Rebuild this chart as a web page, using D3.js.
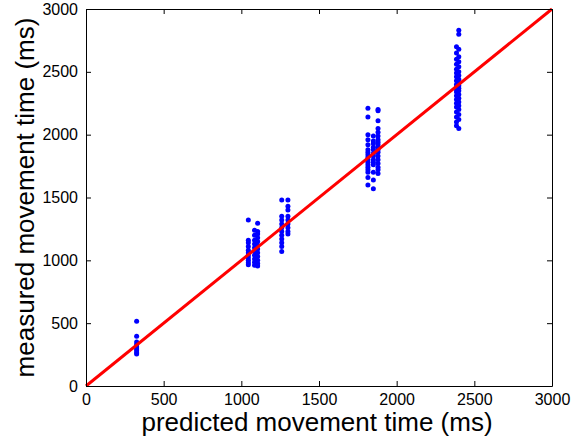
<!DOCTYPE html>
<html>
<head>
  <meta charset="utf-8">
  <style>
    body { margin: 0; background: #fff; }
    text { font-family: "Liberation Sans", Arial, sans-serif; }
  </style>
  <title>Predicted vs measured movement time</title>
</head>
<body>
  <script src="https://cdn.jsdelivr.net/npm/d3@7/dist/d3.min.js"></script>
  <script>
    // axis ticks
    var xTicks = [0, 500, 1000, 1500, 2000, 2500, 3000];
    var yTicks = [0, 500, 1000, 1500, 2000, 2500, 3000];

    // predicted time of each column of points (ms)
    var predicted = [326, 1045, 1085, 1105, 1260, 1300, 1815, 1850, 1880, 2385, 2400];

    // measured times for each column (ms)
    var measured = [
      [515, 395, 350, 330, 310, 295, 280, 265, 255],
      [1320, 1160, 1140, 1110, 1080, 1060, 1040, 1020, 1000, 980, 965],
      [1240, 1200, 1160, 1130, 1100, 1070, 1040, 1010, 985, 960],
      [1295, 1230, 1210, 1180, 1150, 1120, 1090, 1060, 1030, 1000, 975, 955],
      [1480, 1350, 1320, 1290, 1260, 1230, 1200, 1170, 1140, 1110, 1070],
      [1480, 1430, 1400, 1350, 1320, 1290, 1260, 1230, 1210],
      [2210, 2140, 2000, 1960, 1920, 1880, 1860, 1840, 1820, 1800, 1780, 1760, 1740, 1720, 1700, 1660, 1600],
      [1990, 1950, 1930, 1900, 1880, 1850, 1830, 1800, 1780, 1760, 1700, 1640, 1570],
      [2200, 2190, 2110, 2050, 2020, 1990, 1960, 1940, 1920, 1900, 1880, 1860, 1830, 1800, 1770, 1740, 1720, 1690],
      [2700, 2650, 2600, 2560, 2520, 2490, 2460, 2430, 2400, 2380, 2360, 2340, 2310, 2280, 2250, 2220, 2180, 2140, 2100, 2070],
      [2830, 2800, 2680, 2620, 2580, 2540, 2500, 2470, 2440, 2410, 2390, 2370, 2350, 2320, 2290, 2260, 2230, 2200, 2160, 2120, 2050]
    ];

    // identity line
    var lineX = [0, 3000];

    var margin = {top: 9, right: 29, bottom: 51, left: 86},
        width = 581 - margin.left - margin.right,
        height = 437 - margin.top - margin.bottom;

    var svg = d3.select("body").append("svg")
        .attr("width", 581)
        .attr("height", 437)
      .append("g")
        .attr("transform", "translate(" + margin.left + "," + margin.top + ")");

    var x = d3.scaleLinear().domain([0, 3000]).range([0, width]);
    var y = d3.scaleLinear().domain([0, 3000]).range([height, 0]);

    // flatten into points
    var points = [];
    predicted.forEach(function (p, i) {
      measured[i].forEach(function (m) { points.push({p: p, m: m}); });
    });

    // points
    svg.selectAll("circle")
        .data(points)
      .enter().append("circle")
        .attr("cx", function (d) { return x(d.p); })
        .attr("cy", function (d) { return y(d.m); })
        .attr("r", 2.5)
        .attr("fill", "#0000ff");

    // red line
    svg.append("line")
        .attr("x1", x(lineX[0])).attr("y1", y(lineX[0]))
        .attr("x2", x(lineX[1])).attr("y2", y(lineX[1]))
        .attr("stroke", "#ff0000")
        .attr("stroke-width", 3);

    // axes, ticks pointing inward
    function style(g) {
      g.selectAll("path").attr("stroke", "#000");
      g.selectAll("line").attr("stroke", "#000");
      g.selectAll("text").attr("font-size", "16px").attr("fill", "#000")
        .style("font-family", "'Liberation Sans', Arial, sans-serif");
    }

    svg.append("g")
        .attr("transform", "translate(0," + height + ")")
        .call(d3.axisBottom(x).tickValues(xTicks).tickFormat(d3.format("d"))
          .tickSizeInner(-5).tickSizeOuter(0).tickPadding(8))
        .call(style);

    svg.append("g")
        .call(d3.axisTop(x).tickValues(xTicks).tickFormat("")
          .tickSizeInner(-5).tickSizeOuter(0))
        .call(style);

    svg.append("g")
        .call(d3.axisLeft(y).tickValues(yTicks).tickFormat(d3.format("d"))
          .tickSizeInner(-5).tickSizeOuter(0).tickPadding(8))
        .call(style);

    svg.append("g")
        .attr("transform", "translate(" + width + ",0)")
        .call(d3.axisRight(y).tickValues(yTicks).tickFormat("")
          .tickSizeInner(-5).tickSizeOuter(0))
        .call(style);

    // axis labels
    svg.append("text")
        .attr("x", width / 2 - 2)
        .attr("y", height + 45)
        .attr("text-anchor", "middle")
        .attr("font-size", "26px")
        .text("predicted movement time (ms)");

    svg.append("text")
        .attr("transform", "rotate(-90)")
        .attr("x", -height / 2)
        .attr("y", -52)
        .attr("text-anchor", "middle")
        .attr("font-size", "26px")
        .text("measured movement time (ms)");
  </script>
</body>
</html>
